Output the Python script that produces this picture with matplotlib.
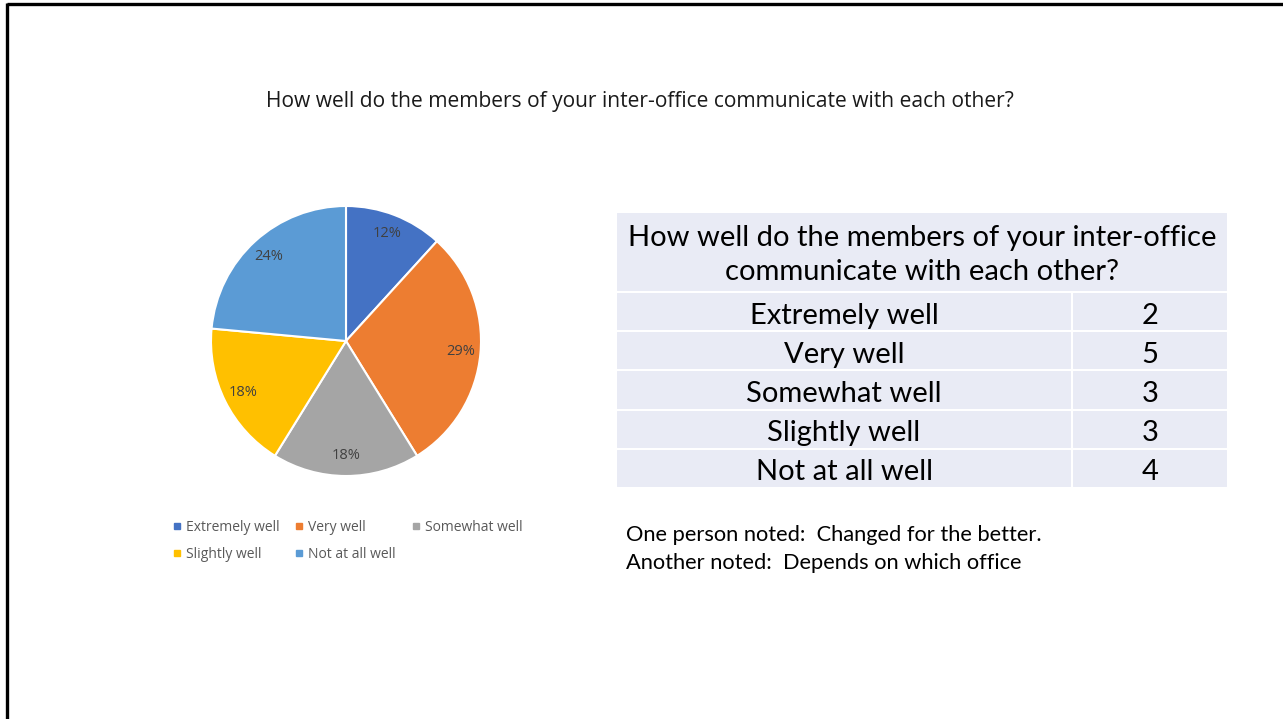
import matplotlib.pyplot as plt
from matplotlib.patches import Rectangle
from matplotlib.lines import Line2D

plt.rcParams['font.family'] = ['Lato', 'DejaVu Sans']

title = "How well do the members of your inter-office communicate with each other?"
table_title = "How well do the members of your inter-office\ncommunicate with each other?"
categories = ['Extremely well', 'Very well', 'Somewhat well', 'Slightly well', 'Not at all well']
counts = [2, 5, 3, 3, 4]
colors = ['#4472C4', '#ED7D31', '#A5A5A5', '#FFC000', '#5B9BD5']
notes = ["One person noted:  Changed for the better.",
         "Another noted:  Depends on which office"]

W, H = 1283, 719
fig = plt.figure(figsize=(W / 100, H / 100), dpi=100)
fig.patch.set_facecolor('white')

# full-figure overlay in pixel units for frame, table and notes
bg = fig.add_axes([0, 0, 1, 1])
bg.set_xlim(0, W)
bg.set_ylim(H, 0)
bg.axis('off')

bg.plot([7, W], [4, 4], color='black', lw=2.4, solid_capstyle='butt')
bg.plot([7, 7], [3, H], color='black', lw=2.4, solid_capstyle='butt')

bg.text(640, 102, title, ha='center', va='center', fontsize=15.1,
        color='#1a1a1a', family=['Open Sans', 'DejaVu Sans'])

# pie
ax = fig.add_axes([211 / W, (H - 476) / H, 270 / W, 270 / H])
wedges, texts, autotexts = ax.pie(
    counts, colors=colors, startangle=90, counterclock=False,
    autopct='%.0f%%', pctdistance=0.85,
    wedgeprops=dict(edgecolor='white', linewidth=1.5))
plt.setp(autotexts, fontsize=10.5, color='#404040',
         family=['Open Sans', 'DejaVu Sans'])
ax.set_xlim(-1.0, 1.0)
ax.set_ylim(-1.0, 1.0)
ax.set_aspect('equal')

# legend laid out in two rows
handles = [Line2D([], [], marker='s', linestyle='none', markersize=5,
                  markerfacecolor=c, markeredgecolor=c) for c in colors]
order = [0, 3, 1, 4, 2]
fig.legend([handles[i] for i in order], [categories[i] for i in order],
           ncol=3, loc='center', bbox_to_anchor=(347 / W, 1 - 541 / H),
           frameon=False, labelcolor='#595959',
           prop={'family': ['Open Sans', 'DejaVu Sans'], 'size': 10},
           handletextpad=0.25, columnspacing=1.0, labelspacing=0.85,
           handlelength=0.8)

# summary table
x0, x1, xdiv = 616, 1228, 1072
head_top, head_bot = 212, 292
row_h = (488 - head_bot) / len(categories)
cell_bg = '#E9EBF5'

bg.add_patch(Rectangle((x0, head_top), x1 - x0, head_bot - head_top,
                       facecolor=cell_bg, edgecolor='white', lw=1.5))
bg.text((x0 + x1) / 2, (head_top + head_bot) / 2 + 3, table_title,
        ha='center', va='center', fontsize=21, color='black', linespacing=1.38)

for i, (cat, n) in enumerate(zip(categories, counts)):
    top = head_bot + i * row_h
    bg.add_patch(Rectangle((x0, top), xdiv - x0, row_h,
                           facecolor=cell_bg, edgecolor='white', lw=1.5))
    bg.add_patch(Rectangle((xdiv, top), x1 - xdiv, row_h,
                           facecolor=cell_bg, edgecolor='white', lw=1.5))
    bg.text((x0 + xdiv) / 2, top + row_h / 2 + 4, cat,
            ha='center', va='center', fontsize=21, color='black')
    bg.text((xdiv + x1) / 2, top + row_h / 2 + 4, str(n),
            ha='center', va='center', fontsize=21, color='black')

for j, line in enumerate(notes):
    bg.text(626, 535 + j * 28, line, ha='left', va='center',
            fontsize=15.75, color='black')

fig.savefig('out.png', dpi=100, facecolor='white')
